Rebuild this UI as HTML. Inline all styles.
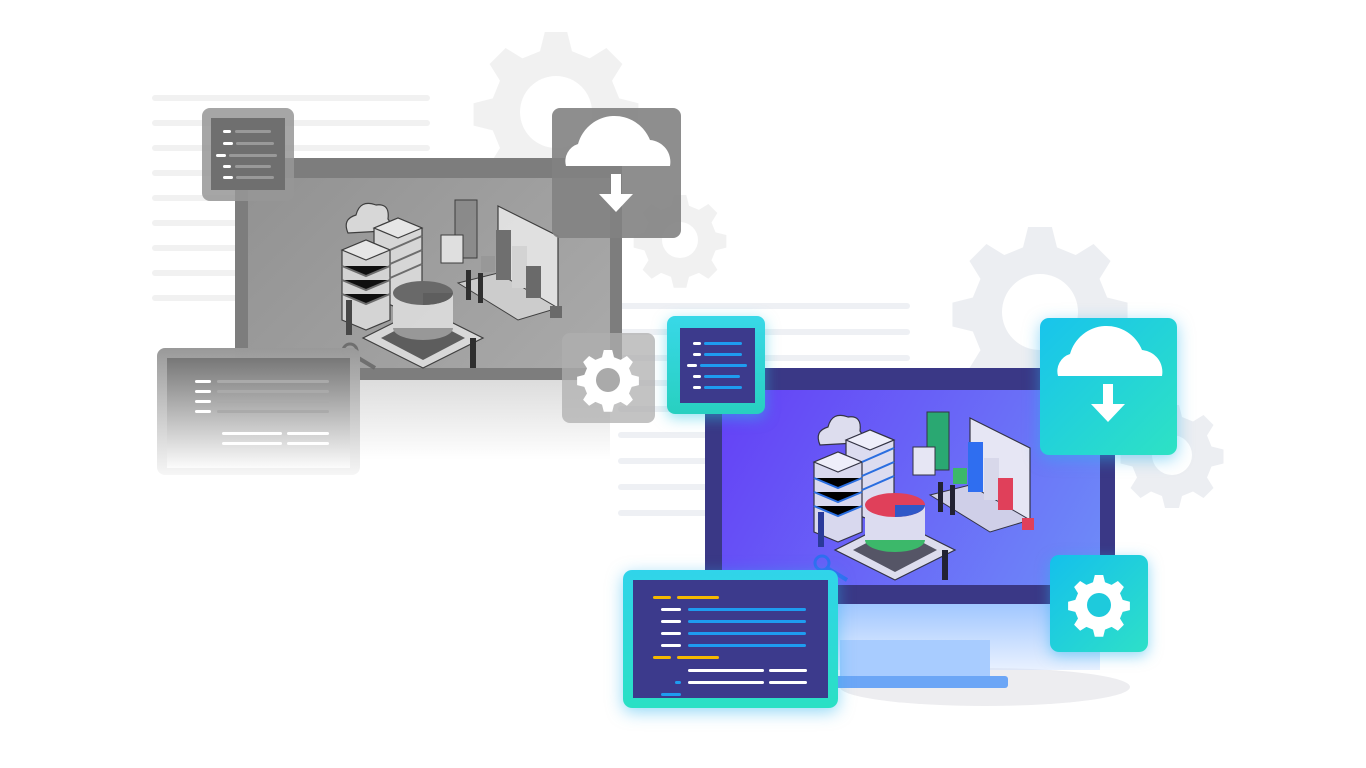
<!DOCTYPE html>
<html><head><meta charset="utf-8"><style>
body{margin:0;width:1366px;height:768px;background:#fff;position:relative;overflow:hidden;font-family:"Liberation Sans",sans-serif}
.a{position:absolute}
.ln{position:absolute;height:6px;border-radius:3px}
</style></head><body>

<div class="a" style="left:152px;top:0">
 <div class="ln" style="left:0;top:95px;width:278px;background:#f1f1f1"></div>
 <div class="ln" style="left:0;top:120px;width:278px;background:#f1f1f1"></div>
 <div class="ln" style="left:0;top:145px;width:278px;background:#f1f1f1"></div>
 <div class="ln" style="left:0;top:170px;width:90px;background:#f1f1f1"></div>
 <div class="ln" style="left:0;top:195px;width:90px;background:#f1f1f1"></div>
 <div class="ln" style="left:0;top:220px;width:90px;background:#f1f1f1"></div>
 <div class="ln" style="left:0;top:245px;width:90px;background:#f1f1f1"></div>
 <div class="ln" style="left:0;top:270px;width:90px;background:#f1f1f1"></div>
 <div class="ln" style="left:0;top:295px;width:90px;background:#f1f1f1"></div>
</div>

<svg class="a" style="left:0;top:0" width="1366" height="768">
 <defs>
  <g id="gear"><path d="M-14,-100h28l6,24l22,9l21,-13l20,20l-13,21l9,22l24,6v28l-24,6l-9,22l13,21l-20,20l-21,-13l-22,9l-6,24h-28l-6,-24l-22,-9l-21,13l-20,-20l13,-21l-9,-22l-24,-6v-28l24,-6l9,-22l-13,-21l20,-20l21,13l22,-9z"/></g>
 </defs>
 <g fill="#f1f1f1"><g transform="translate(556,112) scale(0.8)"><use href="#gear"/></g><circle cx="556" cy="112" r="36" fill="#fff"/></g>
 <g fill="#f1f1f1"><g transform="translate(680,240) scale(0.45)"><use href="#gear"/></g><circle cx="680" cy="240" r="18" fill="#fff"/></g>
 <g fill="#eceef2"><g transform="translate(1040,312) scale(0.85)"><use href="#gear"/></g><circle cx="1040" cy="312" r="38" fill="#fff"/></g>
 <g fill="#eceef2"><g transform="translate(1172,455) scale(0.5)"><use href="#gear"/></g><circle cx="1172" cy="455" r="20" fill="#fff"/></g>
</svg>

<div class="a" style="left:618px;top:0">
 <div class="ln" style="left:0;top:303px;width:292px;background:#eef0f4"></div>
 <div class="ln" style="left:0;top:329px;width:292px;background:#eef0f4"></div>
 <div class="ln" style="left:0;top:355px;width:292px;background:#eef0f4"></div>
 <div class="ln" style="left:0;top:380px;width:90px;background:#eef0f4"></div>
 <div class="ln" style="left:0;top:406px;width:90px;background:#eef0f4"></div>
 <div class="ln" style="left:0;top:432px;width:90px;background:#eef0f4"></div>
 <div class="ln" style="left:0;top:458px;width:90px;background:#eef0f4"></div>
 <div class="ln" style="left:0;top:484px;width:90px;background:#eef0f4"></div>
 <div class="ln" style="left:0;top:510px;width:90px;background:#eef0f4"></div>
</div>

<!-- GRAY MONITOR -->
<div class="a" style="left:250px;top:380px;width:360px;height:80px;background:linear-gradient(#dcdcdc,rgba(255,255,255,0))"></div>
<div class="a" style="left:235px;top:158px;width:387px;height:222px;background:#7d7d7d"></div>
<div class="a" style="left:248px;top:178px;width:362px;height:190px;background:linear-gradient(135deg,#929292,#aaaaaa)"></div>

<svg class="a" style="left:0;top:0" width="1366" height="768">
 <defs>
  <g id="ill">
   <path d="M20,45 q-6,-14 8,-18 q4,-16 20,-10 q14,-2 12,14 q6,8 -4,12 z" fill="#dde" stroke="#334" stroke-width="1.2"/>
   <g stroke="#334" stroke-width="1.2">
    <path d="M46,40 l24,-10 l24,10 v70 l-24,10 l-24,-10z" fill="#dcdcf0"/>
    <path d="M46,40 l24,-10 l24,10 l-24,10z" fill="#eeeefa"/>
    <path d="M14,62 l24,-10 l24,10 v70 l-24,10 l-24,-10z" fill="#d8d8ee"/>
    <path d="M14,62 l24,-10 l24,10 l-24,10z" fill="#eeeefa"/>
   </g>
   <g stroke="#2a6ee0" stroke-width="2"><path d="M14,78 l24,10 l24,-10M14,92 l24,10 l24,-10M14,106 l24,10 l24,-10M62,62 l32,-14M62,76 l32,-14M62,90 l32,-14"/></g>
   <path d="M95,120 l60,30 l-60,30 l-60,-30z" fill="#dde" stroke="#334" stroke-width="1.2"/>
   <path d="M95,128 l42,22 l-42,22 l-42,-22z" fill="#556" />
   <ellipse cx="95" cy="140" rx="30" ry="12" fill="#3cb86a"/>
   <rect x="65" y="105" width="60" height="35" fill="#dcdcf0"/>
   <ellipse cx="95" cy="105" rx="30" ry="12" fill="#e0405a"/>
   <path d="M95,105 l30,0 a30,12 0 0 1 -30,12z" fill="#2f58c8"/>
   <rect x="127" y="12" width="22" height="58" fill="#2aa872" stroke="#334"/>
   <rect x="113" y="47" width="22" height="28" fill="#e6e6f4" stroke="#334"/>
   <path d="M170,18 l60,30 v75 l-60,-30z" fill="#e6e6f4" stroke="#334" stroke-width="1.2"/>
   <path d="M130,95 l40,-10 l60,35 l-40,12z" fill="#cfcfe8" stroke="#334"/>
   <rect x="168" y="42" width="15" height="50" fill="#2f6ef0"/>
   <rect x="184" y="58" width="15" height="42" fill="#d8d8ea"/>
   <rect x="198" y="78" width="15" height="32" fill="#e0405a"/>
   <rect x="153" y="68" width="14" height="16" fill="#3cb86a"/>
   <rect x="138" y="82" width="5" height="30" fill="#223"/><rect x="150" y="85" width="5" height="30" fill="#223"/>
   <rect x="18" y="112" width="6" height="35" fill="#2a3a9a"/>
   <rect x="142" y="150" width="6" height="30" fill="#223"/>
   <circle cx="22" cy="163" r="7" fill="none" stroke="#2f6ef0" stroke-width="3"/>
   <path d="M27,168 l20,12" stroke="#2f6ef0" stroke-width="4"/>
   <rect x="222" y="118" width="12" height="12" fill="#e0405a"/>
  </g>
 </defs>
 <g transform="translate(328,188)" style="filter:grayscale(1)" opacity="0.9"><use href="#ill"/></g>
</svg>

<div class="a" style="left:202px;top:108px;width:92px;height:93px;border-radius:8px;background:rgba(150,150,150,.85)"></div>
<div class="a" style="left:211px;top:118px;width:74px;height:72px;background:#6f6f6f">
 <div class="ln" style="left:12px;top:12px;width:8px;height:3px;background:#fff"></div><div class="ln" style="left:24px;top:12px;width:36px;height:3px;background:#999"></div>
 <div class="ln" style="left:12px;top:24px;width:10px;height:3px;background:#fff"></div><div class="ln" style="left:25px;top:24px;width:38px;height:3px;background:#999"></div>
 <div class="ln" style="left:5px;top:36px;width:10px;height:3px;background:#fff"></div><div class="ln" style="left:18px;top:36px;width:48px;height:3px;background:#999"></div>
 <div class="ln" style="left:12px;top:47px;width:8px;height:3px;background:#fff"></div><div class="ln" style="left:24px;top:47px;width:36px;height:3px;background:#999"></div>
 <div class="ln" style="left:12px;top:58px;width:10px;height:3px;background:#fff"></div><div class="ln" style="left:25px;top:58px;width:38px;height:3px;background:#999"></div>
</div>
<div class="a" style="left:552px;top:108px;width:129px;height:130px;border-radius:8px;background:rgba(130,130,130,.9)"></div>
<div class="a" style="left:562px;top:333px;width:93px;height:90px;border-radius:8px;background:rgba(175,175,175,.75)"></div>
<div class="a" style="left:157px;top:348px;width:203px;height:127px;border-radius:8px;background:linear-gradient(#999,rgba(245,245,245,.9))"></div>
<div class="a" style="left:167px;top:358px;width:183px;height:110px;background:linear-gradient(#777,rgba(252,252,252,.95))">
 <div class="ln" style="left:28px;top:22px;width:16px;height:3px;background:#fff"></div><div class="ln" style="left:50px;top:22px;width:112px;height:3px;background:#aaa"></div>
 <div class="ln" style="left:28px;top:32px;width:16px;height:3px;background:#fff"></div><div class="ln" style="left:50px;top:32px;width:112px;height:3px;background:#aaa"></div>
 <div class="ln" style="left:28px;top:42px;width:16px;height:3px;background:#fff"></div><div class="ln" style="left:50px;top:42px;width:112px;height:3px;background:#aaa"></div>
 <div class="ln" style="left:28px;top:52px;width:16px;height:3px;background:#fff"></div><div class="ln" style="left:50px;top:52px;width:112px;height:3px;background:#aaa"></div>
 <div class="ln" style="left:55px;top:74px;width:60px;height:3px;background:#fff"></div><div class="ln" style="left:120px;top:74px;width:42px;height:3px;background:#fff"></div>
 <div class="ln" style="left:55px;top:84px;width:60px;height:3px;background:#fff"></div><div class="ln" style="left:120px;top:84px;width:42px;height:3px;background:#fff"></div>
</div>

<!-- COLOR MONITOR -->
<div class="a" style="left:840px;top:668px;width:290px;height:38px;border-radius:50%;background:#ededf0"></div>
<div class="a" style="left:720px;top:600px;width:380px;height:70px;background:linear-gradient(#9cc4ff,rgba(200,220,255,.4))"></div>
<div class="a" style="left:840px;top:640px;width:150px;height:40px;background:#a8ccff"></div>
<div class="a" style="left:808px;top:676px;width:200px;height:12px;border-radius:3px;background:#6ca6f6"></div>
<div class="a" style="left:705px;top:368px;width:410px;height:236px;background:#3a3886"></div>
<div class="a" style="left:722px;top:390px;width:378px;height:195px;background:linear-gradient(120deg,#6440f6,#6e8cf8)"></div>
<svg class="a" style="left:0;top:0" width="1366" height="768"><g transform="translate(800,400)"><use href="#ill"/></g></svg>

<div class="a" style="left:667px;top:316px;width:98px;height:98px;border-radius:8px;background:linear-gradient(#38d8e8,#28d0c0);box-shadow:0 4px 14px rgba(40,200,230,.5)"></div>
<div class="a" style="left:680px;top:328px;width:75px;height:75px;background:#3c3a8c">
 <div class="ln" style="left:13px;top:14px;width:8px;height:3px;background:#fff"></div><div class="ln" style="left:24px;top:14px;width:38px;height:3px;background:#1e9cf0"></div>
 <div class="ln" style="left:13px;top:25px;width:8px;height:3px;background:#fff"></div><div class="ln" style="left:24px;top:25px;width:38px;height:3px;background:#1e9cf0"></div>
 <div class="ln" style="left:7px;top:36px;width:10px;height:3px;background:#fff"></div><div class="ln" style="left:20px;top:36px;width:47px;height:3px;background:#1e9cf0"></div>
 <div class="ln" style="left:13px;top:47px;width:8px;height:3px;background:#fff"></div><div class="ln" style="left:24px;top:47px;width:36px;height:3px;background:#1e9cf0"></div>
 <div class="ln" style="left:13px;top:58px;width:8px;height:3px;background:#fff"></div><div class="ln" style="left:24px;top:58px;width:38px;height:3px;background:#1e9cf0"></div>
</div>
<div class="a" style="left:1040px;top:318px;width:137px;height:137px;border-radius:9px;background:linear-gradient(135deg,#18c4ec,#2ee2c4);box-shadow:0 4px 16px rgba(40,180,240,.5)"></div>
<div class="a" style="left:1050px;top:555px;width:98px;height:97px;border-radius:9px;background:linear-gradient(135deg,#14c0ec,#2ee0c8);box-shadow:0 4px 14px rgba(40,180,240,.5)"></div>
<div class="a" style="left:623px;top:570px;width:215px;height:138px;border-radius:9px;background:linear-gradient(#30d4ea,#2ae0c4);box-shadow:0 4px 16px rgba(40,180,240,.5)"></div>
<div class="a" style="left:633px;top:580px;width:195px;height:118px;background:#3c3a8c">
 <div class="ln" style="left:20px;top:16px;width:18px;height:3px;background:#f5b800"></div><div class="ln" style="left:44px;top:16px;width:42px;height:3px;background:#f5b800"></div>
 <div class="ln" style="left:28px;top:28px;width:20px;height:3px;background:#fff"></div><div class="ln" style="left:55px;top:28px;width:118px;height:3px;background:#1e9cf0"></div>
 <div class="ln" style="left:28px;top:40px;width:20px;height:3px;background:#fff"></div><div class="ln" style="left:55px;top:40px;width:118px;height:3px;background:#1e9cf0"></div>
 <div class="ln" style="left:28px;top:52px;width:20px;height:3px;background:#fff"></div><div class="ln" style="left:55px;top:52px;width:118px;height:3px;background:#1e9cf0"></div>
 <div class="ln" style="left:28px;top:64px;width:20px;height:3px;background:#fff"></div><div class="ln" style="left:55px;top:64px;width:118px;height:3px;background:#1e9cf0"></div>
 <div class="ln" style="left:20px;top:76px;width:18px;height:3px;background:#f5b800"></div><div class="ln" style="left:44px;top:76px;width:42px;height:3px;background:#f5b800"></div>
 <div class="ln" style="left:55px;top:89px;width:76px;height:3px;background:#fff"></div><div class="ln" style="left:136px;top:89px;width:38px;height:3px;background:#fff"></div>
 <div class="ln" style="left:42px;top:101px;width:6px;height:3px;background:#1e9cf0"></div><div class="ln" style="left:55px;top:101px;width:76px;height:3px;background:#fff"></div><div class="ln" style="left:136px;top:101px;width:38px;height:3px;background:#fff"></div>
 <div class="ln" style="left:28px;top:113px;width:20px;height:3px;background:#1e9cf0"></div>
</div>

<svg class="a" style="left:0;top:0" width="1366" height="768">
 <defs>
  <g id="cloud"><path d="M-50,20 a18,18 0 0 1 12,-22 a38,38 0 0 1 72,-4 a22,22 0 0 1 20,26z" fill="#fff"/>
   <rect x="-5" y="28" width="10" height="22" fill="#fff"/><path d="M-17,48 h34 l-17,18z" fill="#fff"/></g>
  <g id="cog"><g transform="scale(0.3)"><use href="#gear" fill="#fff"/></g></g>
 </defs>
 <g transform="translate(616,146)"><use href="#cloud"/></g>
 <g transform="translate(1108,356)"><use href="#cloud"/></g>
 <g transform="translate(608,380)"><use href="#cog" fill="#fff"/><circle r="12" fill="#aaa"/></g>
 <g transform="translate(1099,605)"><use href="#cog" fill="#fff"/><circle r="12" fill="#1ecadc"/></g>
</svg>
</body></html>
